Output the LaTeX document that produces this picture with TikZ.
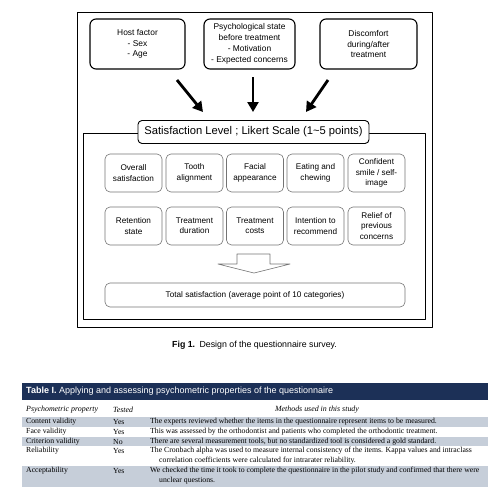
\documentclass[tikz,border=0pt]{standalone}
\usepackage{fontspec}
\setmainfont{Liberation Serif}
\setsansfont{Liberation Sans}
\usetikzlibrary{arrows.meta}
\definecolor{navy}{HTML}{1C3057}
\definecolor{band}{HTML}{C6CED9}
\tikzset{
  topbox/.style={draw, line width=1.1pt, rounded corners=6pt, minimum width=#1, minimum height=50pt, align=center, font=\sffamily\fontsize{8.4}{10.8}\selectfont},
  itembox/.style={draw=black!55, line width=0.6pt, rounded corners=5pt, minimum width=57pt, minimum height=38pt, align=center, inner sep=1pt, font=\sffamily\fontsize{8.2}{10.4}\selectfont},
  bigarrow/.style={line width=2.8pt, -{Triangle[length=10pt,width=11pt]}},
  cell/.style={anchor=west, inner sep=0pt, font=\fontsize{7.75}{9}\selectfont}
}
\begin{document}
\begin{tikzpicture}[x=1pt,y=-1pt, line join=round]
\useasboundingbox (0,0) rectangle (500,498);
% figure frame
\draw[line width=0.8pt] (77,12) rectangle (432,327);
\draw[line width=0.8pt] (83,133) rectangle (425,319);
% factors
\node[topbox=95pt] (host) at (137.5,44) {Host factor\\- Sex\\- Age};
\node[topbox=91pt] (psych) at (249.5,44) {Psychological state\\before treatment\\- Motivation\\- Expected concerns};
\node[topbox=97pt] (disc) at (368.5,44) {Discomfort\\during/after\\treatment};
\coordinate (a1s) at (177,80); \coordinate (a1e) at (203,112);
\coordinate (a2s) at (253,77); \coordinate (a2e) at (253,112);
\coordinate (a3s) at (328,80); \coordinate (a3e) at (306,112);
\draw[bigarrow] (a1s) -- (a1e);
\draw[bigarrow] (a2s) -- (a2e);
\draw[bigarrow] (a3s) -- (a3e);
\node[draw, fill=white, line width=0.9pt, rounded corners=4pt, minimum width=231pt, minimum height=23pt, inner sep=1pt, font=\sffamily\fontsize{11.2}{13}\selectfont] (likert) at (253.5,132) {Satisfaction Level ; Likert Scale (1\textasciitilde5 points)};
% categories
\node[itembox] (overall) at (133.5,173) {Overall\\satisfaction};
\node[itembox] (tooth) at (194.5,173) {Tooth\\alignment};
\node[itembox] (facial) at (255,173) {Facial\\appearance};
\node[itembox] (eating) at (315.5,173) {Eating and\\chewing};
\node[itembox] (smile) at (376.5,173) {Confident\\smile / self-\\image};
\node[itembox] (retention) at (133.5,226) {Retention\\state};
\node[itembox] (duration) at (194.5,226) {Treatment\\duration};
\node[itembox] (costs) at (255,226) {Treatment\\costs};
\node[itembox] (recommend) at (315.5,226) {Intention to\\recommend};
\node[itembox] (relief) at (376.5,226) {Relief of\\previous\\concerns};
\draw[black!55, line width=0.6pt] (237,254) -- (270,254) -- (270,264) -- (290,264) -- (254,273) -- (218,264) -- (237,264) -- cycle;
\node[itembox, minimum width=300pt, minimum height=24pt] (total) at (255,295) {Total satisfaction (average point of 10 categories)};
% caption
\node[anchor=west, inner sep=0pt, font=\sffamily\fontsize{8.8}{10}\selectfont] (cap) at (172,345) {\textbf{Fig 1.}\enspace Design of the questionnaire survey.};
% table
\fill[navy] (22,383) rectangle (488,400);
\node[anchor=west, inner sep=0pt, text=white, font=\sffamily\fontsize{9}{10}\selectfont] (ttl) at (26,391.5) {\textbf{Table I.} Applying and assessing psychometric properties of the questionnaire};
\fill[band] (22,416.5) rectangle (488,426.5);
\fill[band] (22,436.5) rectangle (488,446);
\fill[band] (22,466) rectangle (488,487);
\node[cell, font=\itshape\fontsize{7.9}{9}\selectfont] (h1) at (26,410) {Psychometric property};
\node[cell, font=\itshape\fontsize{7.9}{9}\selectfont] (h2) at (113,410) {Tested};
\node[cell, anchor=center, font=\itshape\fontsize{7.9}{9}\selectfont] (h3) at (317,410) {Methods used in this study};
\node[cell] (p1) at (26,421.5) {Content validity};
\node[cell] (t1) at (113,421.5) {Yes};
\node[cell] (m1) at (150,421.5) {The experts reviewed whether the items in the questionnaire represent items to be measured.};
\node[cell] (p2) at (26,431.5) {Face validity};
\node[cell] (t2) at (113,431.5) {Yes};
\node[cell] (m2) at (150,431.5) {This was assessed by the orthodontist and patients who completed the orthodontic treatment.};
\node[cell] (p3) at (26,441.5) {Criterion validity};
\node[cell] (t3) at (113,441.5) {No};
\node[cell] (m3) at (150,441.5) {There are several measurement tools, but no standardized tool is considered a gold standard.};
\node[cell] (p4) at (26,451) {Reliability};
\node[cell] (t4) at (113,451) {Yes};
\node[cell] (m4) at (150,451) {The Cronbach alpha was used to measure internal consistency of the items. Kappa values and intraclass};
\node[cell] (m4b) at (159,460.5) {correlation coefficients were calculated for intrarater reliability.};
\node[cell] (p5) at (26,471) {Acceptability};
\node[cell] (t5) at (113,471) {Yes};
\node[cell] (m5) at (150,471) {We checked the time it took to complete the questionnaire in the pilot study and confirmed that there were};
\node[cell] (m5b) at (159,481) {unclear questions.};
\end{tikzpicture}
\end{document}
